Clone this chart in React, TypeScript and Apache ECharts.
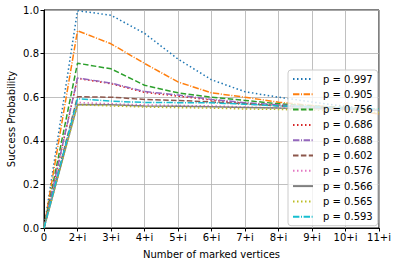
import React, { useEffect, useRef } from "react";
import * as echarts from "echarts";

const categories = ["0", "2+i", "3+i", "4+i", "5+i", "6+i", "7+i", "8+i", "9+i", "10+i", "11+i"];

const seriesNames = [
  "p = 0.997", "p = 0.905", "p = 0.756", "p = 0.686", "p = 0.688",
  "p = 0.602", "p = 0.576", "p = 0.566", "p = 0.565", "p = 0.593",
];

const s0997 = [0, 0.997, 0.976, 0.893, 0.775, 0.68, 0.625, 0.6, 0.578, 0.558, 0.54];
const s0905 = [0, 0.905, 0.845, 0.755, 0.67, 0.62, 0.6, 0.577, 0.562, 0.55, 0.522];
const s0756 = [0, 0.756, 0.73, 0.655, 0.62, 0.6, 0.585, 0.57, 0.56, 0.552, 0.545];
const s0686 = [0, 0.686, 0.662, 0.622, 0.605, 0.587, 0.572, 0.562, 0.555, 0.548, 0.54];
const s0688 = [0, 0.688, 0.665, 0.626, 0.61, 0.59, 0.575, 0.565, 0.556, 0.55, 0.54];
const s0602 = [0, 0.602, 0.6, 0.59, 0.585, 0.578, 0.57, 0.56, 0.555, 0.55, 0.54];
const s0576 = [0, 0.576, 0.57, 0.565, 0.562, 0.56, 0.555, 0.55, 0.548, 0.545, 0.54];
const s0566 = [0, 0.566, 0.565, 0.56, 0.558, 0.556, 0.553, 0.55, 0.548, 0.545, 0.54];
const s0565 = [0, 0.565, 0.56, 0.555, 0.552, 0.55, 0.546, 0.544, 0.54, 0.538, 0.53];
const s0593 = [0, 0.593, 0.582, 0.576, 0.575, 0.574, 0.568, 0.56, 0.555, 0.55, 0.545];

const seriesValues = [s0997, s0905, s0756, s0686, s0688, s0602, s0576, s0566, s0565, s0593];

const colors = ["#1f77b4", "#ff7f0e", "#2ca02c", "#d62728", "#9467bd", "#8c564b", "#e377c2", "#7f7f7f", "#bcbd22", "#17becf"];

const dotted = [1.5, 2.5];
const dashdot = [6.4, 1.6, 1, 1.6];
const dashed = [5.5, 2.4];
const dashTypes: any[] = [dotted, dashdot, dashed, dotted, dashdot, dashed, dotted, "solid", dotted, dashdot];

const yTicks = [0, 0.2, 0.4, 0.6, 0.8, 1.0];

export default function App() {
  const ref = useRef<HTMLDivElement>(null);
  useEffect(() => {
    if (!ref.current) return;
    const chart = echarts.init(ref.current, null, { renderer: "svg" });
    const font = "DejaVu Sans";
    chart.setOption({
      animation: false,
      backgroundColor: "#fff",
      textStyle: { fontFamily: font },
      grid: {
        left: 44, right: 19, top: 10, bottom: 38,
        outerBoundsMode: "none",
        containLabel: false,
        show: true, borderColor: "#000", borderWidth: 1, backgroundColor: "transparent",
      },
      legend: {
        orient: "vertical",
        left: 288,
        top: 70,
        data: seriesNames,
        itemWidth: 20,
        itemHeight: 10,
        itemGap: 5.3,
        padding: [4, 5, 4, 4],
        backgroundColor: "rgba(255,255,255,0.8)",
        borderColor: "#cccccc",
        borderWidth: 1,
        borderRadius: 3,
        itemStyle: { opacity: 0 },
        textStyle: { fontFamily: font, fontSize: 10, color: "#000", padding: [0, 0, 0, 5] },
      },
      xAxis: {
        type: "category",
        data: categories,
        boundaryGap: false,
        name: "Number of marked vertices",
        nameLocation: "middle",
        nameGap: 21,
        nameMoveOverlap: false,
        nameTextStyle: { fontFamily: font, fontSize: 10, color: "#000" },
        axisLine: { show: true, lineStyle: { color: "#000", width: 1 } },
        axisTick: { show: true, length: 3.5, lineStyle: { color: "#000" } },
        axisLabel: { fontFamily: font, fontSize: 10, color: "#000", margin: 4 },
        splitLine: { show: true, lineStyle: { color: "#b0b0b0", width: 0.8 } },
      },
      yAxis: {
        type: "value",
        min: 0,
        max: 1,
        interval: 0.2,
        name: "Success Probability",
        nameLocation: "middle",
        nameGap: 28,
        nameMoveOverlap: false,
        nameTextStyle: { fontFamily: font, fontSize: 10, color: "#000" },
        axisLine: { show: true, lineStyle: { color: "#000", width: 1 } },
        axisTick: { show: true, length: 3.5, lineStyle: { color: "#000" } },
        axisLabel: {
          fontFamily: font, fontSize: 10, color: "#000", margin: 5,
          formatter: (v: number) => (yTicks.some((t) => Math.abs(t - v) < 1e-9) ? v.toFixed(1) : ""),
        },
        splitLine: { show: true, lineStyle: { color: "#b0b0b0", width: 0.8 } },
      },
      series: seriesNames.map((name, i) => ({
        name,
        type: "line",
        data: seriesValues[i],
        symbol: "none",
        showSymbol: false,
        color: colors[i],
        lineStyle: { color: colors[i], width: 1.5, type: dashTypes[i] },
        itemStyle: { color: colors[i] },
      })),
    });
    return () => chart.dispose();
  }, []);
  return <div ref={ref} style={{ width: 398, height: 266, position: "absolute", left: 0, top: 0 }} />;
}
